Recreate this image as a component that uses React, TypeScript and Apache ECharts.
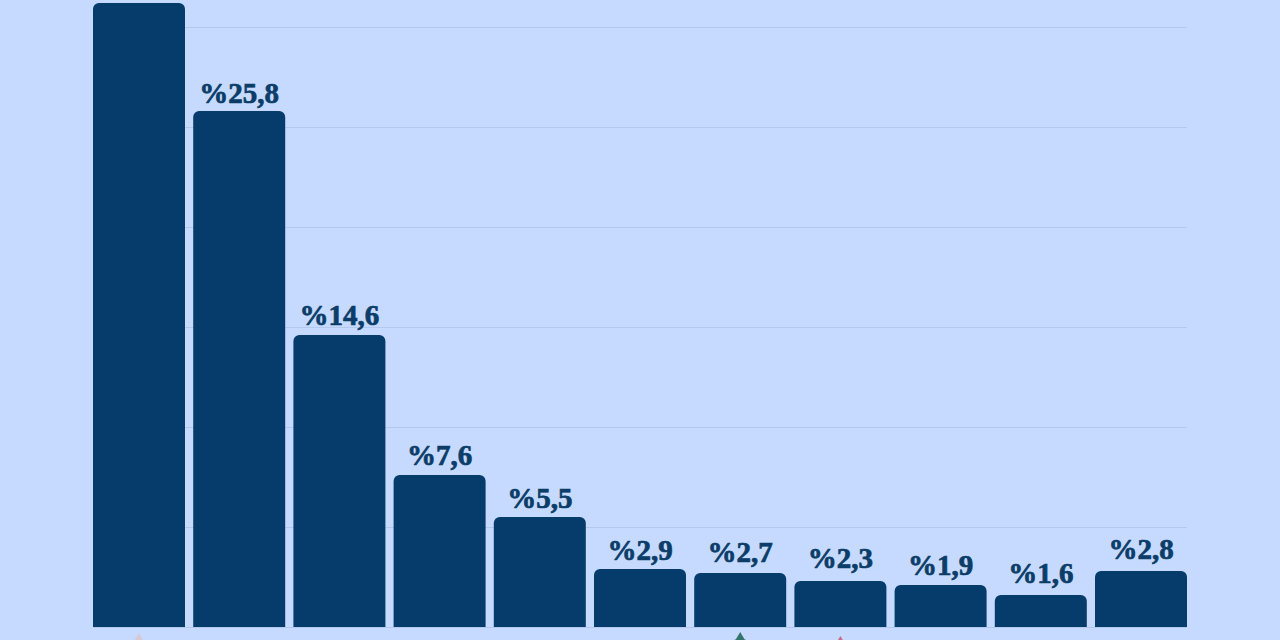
import React, { useEffect, useRef } from "react";
import * as echarts from "echarts";

const categories = ["1", "2", "3", "4", "5", "6", "7", "8", "9", "10", "11"];
const values = [31.2, 25.8, 14.6, 7.6, 5.5, 2.9, 2.7, 2.3, 2.1, 1.6, 2.8];
const labels = ["", "%25,8", "%14,6", "%7,6", "%5,5", "%2,9", "%2,7", "%2,3", "%1,9", "%1,6", "%2,8"];
const labelGaps = [4, 4, 6, 6, 5, 5, 7, 9, 6, 8, 8];
const markIndexes = [0, 6, 7];
const markColors = ["#d8c4cc", "#0f5c4a", "#c8506a"];
const markDepth = [-1.2, -1.15, -1.35];
const markShape = "path://M50 0 L62 20 L100 38 L50 100 L0 38 L38 20Z";

export default function App() {
  const ref = useRef<HTMLDivElement>(null);
  useEffect(() => {
    document.body.style.margin = "0";
    const chart = echarts.init(ref.current!, null, { renderer: "svg" });
    chart.setOption({
      animation: false,
      backgroundColor: "#c6d9ff",
      grid: [
        { left: 88.9, width: 1102.2, top: -73, height: 700, outerBoundsMode: "none" },
        { left: 93, width: 1094, top: -73, height: 700, outerBoundsMode: "none" },
      ],
      xAxis: [
        {
          type: "category",
          gridIndex: 0,
          data: categories,
          axisLine: { show: false },
          axisTick: { show: false },
          axisLabel: { show: false },
        },
        { type: "value", gridIndex: 1, min: 0, max: 1, show: false, splitLine: { show: false } },
      ],
      yAxis: [
        { type: "value", gridIndex: 0, min: 0, max: 35, interval: 5, show: false, splitLine: { show: false } },
        {
          type: "value",
          gridIndex: 1,
          min: 0,
          max: 35,
          interval: 5,
          axisLine: { show: false },
          axisTick: { show: false },
          axisLabel: { show: false },
          splitLine: { show: true, lineStyle: { color: "#b4c8ee", width: 1 } },
        },
      ],
      series: [
        {
          type: "bar",
          xAxisIndex: 0,
          yAxisIndex: 0,
          data: values.map((v, i) => ({ value: v, label: { distance: labelGaps[i] } })),
          barWidth: 92,
          itemStyle: { color: "#053c6b", borderRadius: [6, 6, 0, 0] },
          label: {
            show: true,
            position: "top",
            formatter: (p: { dataIndex: number }) => labels[p.dataIndex],
            color: "#0b3d68",
            fontFamily: "Liberation Serif",
            fontWeight: "bold",
            fontSize: 29,
            textBorderColor: "#0b3d68",
            textBorderWidth: 0.7,
          },
        },
        {
          type: "scatter",
          xAxisIndex: 0,
          yAxisIndex: 0,
          clip: false,
          silent: true,
          symbol: markShape,
          symbolSize: 36,
          data: markIndexes.map((x, i) => ({
            value: [x, markDepth[i]],
            itemStyle: { color: markColors[i] },
          })),
        },
      ],
    });
    return () => chart.dispose();
  }, []);
  return <div ref={ref} style={{ width: 1280, height: 640 }} />;
}
